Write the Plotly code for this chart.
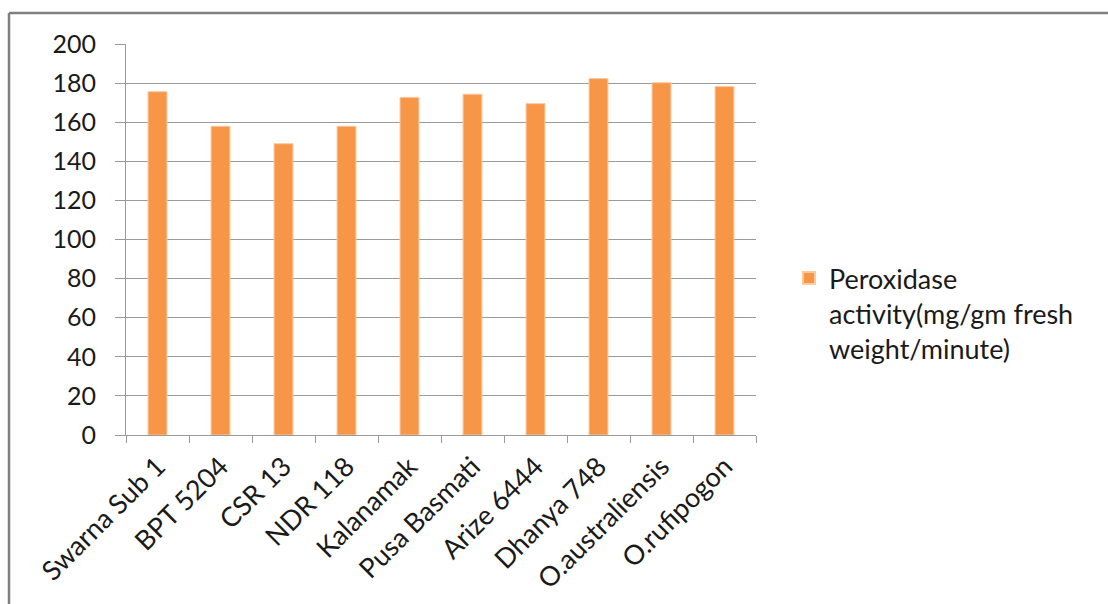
import plotly.graph_objects as go

categories = ["Swarna Sub 1", "BPT 5204", "CSR 13", "NDR 118", "Kalanamak",
              "Pusa Basmati", "Arize 6444", "Dhanya 748", "O.australiensis", "O.rufipogon"]
peroxidase = [175.6, 157.9, 149.0, 157.9, 172.7, 174.3, 169.5, 182.3, 180.2, 178.2]
series_name = "Peroxidase<br>activity(mg/gm fresh<br>weight/minute)"
y_ticks = [0, 20, 40, 60, 80, 100, 120, 140, 160, 180, 200]

FONT = "Lato"
TEXT = "#1a1a1a"
GRID = "#9a9a9a"

fig = go.Figure()
fig.add_trace(go.Bar(
    x=categories, y=peroxidase, name=series_name,
    marker=dict(color="#F79646", line=dict(color="#FBC9A0", width=1)),
    showlegend=True,
))

L, R, T, B = 126, 352, 44, 169
W, H = 1108, 604
pw = W - L - R
ph = H - T - B

def px(x):
    return (x - L) / pw

def py(y):
    return (H - B - y) / ph

fig.update_layout(
    width=W, height=H,
    margin=dict(l=L, r=R, t=T, b=B, pad=0, autoexpand=False),
    paper_bgcolor="white", plot_bgcolor="white",
    font=dict(family=FONT, size=26, color=TEXT),
    bargap=0.70,
    showlegend=True,
    legend=dict(
        x=px(789), y=py(254), xanchor="left", yanchor="top",
        font=dict(family=FONT, size=27, color=TEXT),
        valign="top", bgcolor="rgba(0,0,0,0)",
        itemsizing="constant",
    ),
    xaxis=dict(
        showgrid=False, showline=True, linecolor=GRID, linewidth=1,
        ticks="outside", ticklen=7, tickcolor=GRID, tickson="boundaries",
        tickangle=-45, tickfont=dict(family=FONT, size=27, color=TEXT),
        ticklabelstandoff=4, automargin=False,
        range=[-0.5, 9.5],
    ),
    yaxis=dict(
        range=[0, 200], tickvals=y_ticks, showgrid=True, gridcolor=GRID, gridwidth=1,
        showline=True, linecolor=GRID, linewidth=1,
        ticks="outside", ticklen=10, tickcolor=GRID,
        tickfont=dict(family=FONT, size=25, color=TEXT),
        ticklabelstandoff=14, automargin=False,
        zeroline=False,
    ),
    shapes=[
        dict(type="line", xref="paper", yref="paper",
             x0=px(9), x1=px(1120), y0=py(13), y1=py(13),
             line=dict(color="#7f7f7f", width=2.5)),
        dict(type="line", xref="paper", yref="paper",
             x0=px(9), x1=px(9), y0=py(13), y1=py(620),
             line=dict(color="#7f7f7f", width=2.5)),
    ],
)

fig.write_html("out.html")
